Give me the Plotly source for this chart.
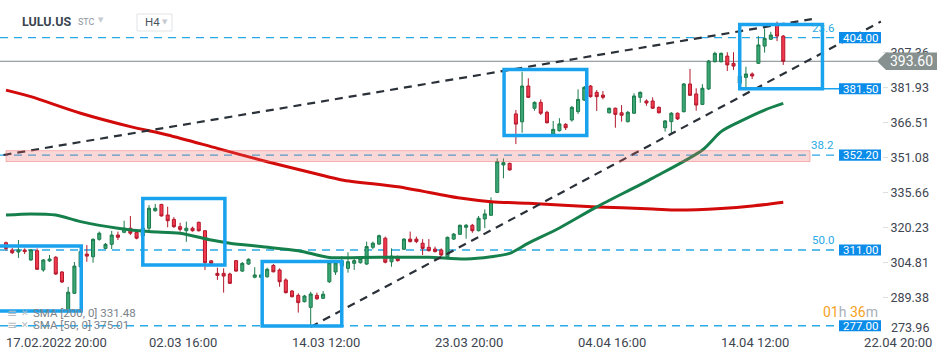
import plotly.graph_objects as go

# ---------------- data ----------------
candle_idx = list(range(126))
opens = [313.6, 310.4, 309.5, 310.4, 306.0, 310.1, 301.6, 305.6, 307.2, 300.7,
         283.2, 291.3, 303.0, 308.6, 307.4, 315.1, 311.1, 312.9, 317.0, 318.2,
         320.0, 318.2, 316.6, 320.0, 327.7, 330.5, 325.8, 323.9, 320.7, 318.9,
         320.0, 322.6, 318.9, 305.6, 300.1, 300.1, 299.8, 305.7, 301.1, 304.2,
         298.4, 298.4, 298.6, 303.6, 301.6, 297.2, 292.3, 290.4, 287.6, 285.1,
         290.4, 289.1, 296.4, 300.7, 303.3, 302.3, 304.5, 304.8, 304.2, 311.6,
         313.0, 315.6, 305.2, 307.4, 310.7, 315.2, 315.2, 313.4, 311.6, 310.8,
         310.4, 307.4, 315.2, 317.3, 320.4, 321.3, 318.9, 324.1, 325.7, 335.8,
         347.9, 348.6, 370.4, 366.9, 382.7, 372.9, 375.5, 371.1, 361.5, 363.0,
         365.8, 367.7, 371.4, 376.5, 382.7, 379.9, 378.7, 370.9, 372.9, 370.9,
         367.0, 370.7, 377.7, 376.1, 376.1, 373.3, 364.3, 367.0, 370.7, 371.4,
         383.6, 379.2, 374.6, 381.4, 393.4, 393.4, 395.9, 392.7, 383.9, 386.5,
         388.0, 392.7, 400.3, 403.3, 409.6, 404.7]
highs = [314.1, 311.3, 314.8, 311.1, 310.8, 311.1, 306.4, 308.2, 307.7, 301.1,
         294.1, 305.1, 311.3, 312.6, 315.6, 318.5, 313.5, 318.8, 318.5, 323.3,
         325.4, 319.2, 320.5, 330.2, 330.7, 330.7, 329.5, 324.9, 322.4, 322.9,
         320.7, 322.9, 319.2, 306.0, 302.6, 302.3, 300.4, 306.0, 305.1, 306.7,
         302.8, 299.8, 302.6, 304.2, 302.3, 297.9, 292.8, 291.3, 290.6, 292.0,
         291.6, 292.3, 305.6, 306.0, 307.7, 309.4, 306.7, 307.3, 314.1, 314.1,
         317.2, 316.3, 311.1, 308.0, 315.6, 318.5, 316.3, 315.2, 315.2, 311.9,
         311.1, 316.3, 317.9, 321.6, 321.9, 321.9, 325.4, 328.3, 333.6, 350.8,
         350.8, 348.9, 372.1, 389.0, 386.1, 375.9, 376.8, 371.8, 367.3, 368.5,
         366.3, 373.9, 381.2, 382.7, 383.1, 380.9, 380.5, 373.2, 373.2, 374.3,
         371.7, 379.5, 380.3, 376.8, 377.7, 373.7, 367.7, 371.2, 371.0, 384.0,
         390.2, 381.7, 383.5, 394.2, 397.8, 397.5, 397.6, 397.6, 387.6, 391.2,
         388.7, 404.7, 408.1, 406.6, 411.1, 405.2]
lows = [310.1, 308.6, 306.9, 308.6, 305.6, 301.6, 300.8, 305.1, 299.4, 295.8,
        282.6, 291.0, 302.5, 305.2, 304.8, 314.5, 310.8, 310.8, 314.8, 317.8,
        317.0, 315.1, 316.1, 318.5, 327.3, 325.2, 320.4, 320.1, 318.5, 314.0,
        318.5, 318.5, 301.6, 304.2, 297.2, 291.6, 295.4, 300.8, 300.7, 303.8,
        297.9, 298.0, 298.2, 300.5, 294.2, 291.2, 289.5, 282.8, 287.3, 277.2,
        288.4, 288.8, 295.8, 299.4, 302.5, 300.4, 301.6, 304.4, 303.8, 310.7,
        312.6, 304.5, 303.0, 305.3, 310.4, 313.7, 313.4, 308.2, 309.7, 309.3,
        307.7, 306.9, 314.8, 317.0, 315.4, 318.0, 318.6, 320.0, 325.4, 335.5,
        342.0, 345.4, 357.1, 362.1, 377.4, 371.8, 369.9, 366.2, 361.1, 362.6,
        363.3, 367.0, 370.4, 376.1, 377.6, 371.7, 376.8, 370.6, 364.3, 367.0,
        366.6, 370.4, 375.3, 374.0, 372.6, 370.6, 362.6, 361.8, 367.7, 371.0,
        378.3, 371.8, 374.3, 380.9, 393.1, 393.1, 389.3, 389.8, 383.4, 381.7,
        385.8, 392.4, 397.4, 403.0, 402.5, 392.0]
closes = [311.1, 309.2, 310.4, 309.7, 310.4, 301.9, 306.0, 306.4, 299.8, 296.3,
          291.8, 303.3, 309.7, 307.7, 315.1, 317.8, 312.9, 317.0, 316.0, 320.0,
          317.8, 315.6, 320.0, 328.8, 328.8, 325.4, 323.3, 320.7, 319.5, 320.0,
          318.9, 318.9, 304.8, 304.5, 299.2, 298.9, 295.7, 301.1, 304.5, 306.3,
          299.4, 299.4, 301.9, 300.8, 296.4, 291.6, 289.8, 287.2, 290.1, 291.0,
          288.9, 290.9, 304.8, 304.7, 305.6, 305.2, 305.7, 306.7, 311.9, 313.4,
          316.7, 305.0, 307.7, 305.7, 315.2, 314.1, 314.1, 311.1, 310.1, 309.7,
          308.2, 316.0, 317.4, 321.3, 321.3, 318.9, 324.4, 326.3, 331.7, 349.3,
          348.9, 345.7, 365.9, 382.7, 377.7, 375.5, 370.7, 366.5, 363.6, 366.0,
          364.3, 373.3, 376.8, 382.1, 378.0, 378.0, 377.7, 372.9, 370.2, 369.8,
          371.1, 378.3, 379.9, 375.2, 372.9, 370.9, 367.3, 370.7, 368.2, 383.6,
          378.6, 374.3, 381.7, 393.7, 397.1, 397.1, 392.0, 391.5, 387.1, 388.0,
          387.1, 400.8, 403.7, 405.2, 404.7, 393.6]

sma200_idx = [0, 4, 12, 20, 26, 34, 42, 50, 54, 63, 73, 78, 84, 95, 104, 108, 115, 120, 125]
sma200_val = [380.9, 378.0, 370.7, 364.8, 361.1, 355.2, 349.3, 343.9, 341.3, 338.3,
              333.3, 331.7, 331.0, 329.4, 328.5, 328.0, 328.7, 329.8, 331.48]
sma50_idx = [0, 4, 8, 12, 18, 23, 28, 33, 36, 41, 47, 52, 57, 63, 68, 74, 78, 81, 84,
             89, 95, 104, 112, 115, 118, 122, 125]
sma50_val = [325.8, 326.3, 325.8, 322.9, 320.0, 318.5, 317.8, 314.8, 313.4, 311.9,
             310.1, 307.1, 307.1, 307.2, 307.2, 306.4, 307.4, 308.9, 313.4, 320.1,
             329.4, 342.1, 354.5, 362.6, 367.0, 372.1, 375.01]

ytick_vals = [289.38, 304.81, 320.23, 335.66, 351.08, 366.51, 381.93, 397.36]
ytick_bottom = "273.96"
xtick_idx = [0, 23, 46, 69, 92, 115, 138]
xtick_text = ["17.02.2022 20:00", "02.03 16:00", "14.03 12:00", "23.03 20:00",
              "04.04 16:00", "14.04 12:00", "22.04 20:00"]

fib_levels = [404.0, 352.2, 310.4]
fib_pct = ["23.6", "38.2", "50.0"]
fib_text = ["404.00", "352.20", "311.00"]
low_level = 277.0
low_text = "277.00"
box_level = 381.5
box_text = "381.50"
last_price = 393.6
last_text = "393.60"
fib_band = (349.4, 354.2)

# boxes: (x0 idx, x1 idx, y0 price, y1 price)
boxes = [(-1.5, 12.1, 283.5, 312.2),
         (22.0, 35.2, 303.8, 333.1),
         (41.2, 54.0, 276.9, 305.3),
         (80.1, 93.4, 360.9, 390.0),
         (118.0, 131.3, 381.5, 409.8)]
trend_upper = ([-0.4, 129.6], [352.3, 412.2])
trend_lower = ([49.0, 140.7], [276.5, 411.1])

# ---------------- figure ----------------
PW = 882.0
PH = 333.0
Y0, Y1 = 273.8, 420.62
def pxx(p):
    return p / PW
def pxy(p):
    return 1 - p / PH

fig = go.Figure()

fig.add_trace(go.Candlestick(
    x=candle_idx, open=opens, high=highs, low=lows, close=closes,
    increasing=dict(fillcolor="#3aa876", line=dict(color="#1c7a4b", width=1)),
    decreasing=dict(fillcolor="#f23a4e", line=dict(color="#b3182c", width=1)),
    whiskerwidth=0, hoverinfo="skip"))

fig.add_trace(go.Scatter(x=sma200_idx, y=sma200_val, mode="lines",
                         line=dict(color="#d20a0a", width=3, shape="spline", smoothing=0.8),
                         hoverinfo="skip"))
fig.add_trace(go.Scatter(x=sma50_idx, y=sma50_val, mode="lines",
                         line=dict(color="#16804c", width=3, shape="spline", smoothing=0.8),
                         hoverinfo="skip"))

fig.add_trace(go.Scatter(x=trend_upper[0], y=trend_upper[1], mode="lines",
                         line=dict(color="#2b3139", width=2.2, dash="8px,6px"),
                         hoverinfo="skip"))
fig.add_trace(go.Scatter(x=trend_lower[0], y=trend_lower[1], mode="lines",
                         line=dict(color="#2b3139", width=2.2, dash="8px,6px"),
                         hoverinfo="skip"))

shapes = []
FIB_BLUE = "#29a9e6"
for lv in fib_levels + [low_level]:
    shapes.append(dict(type="line", xref="paper", yref="y", x0=0, x1=pxx(838), y0=lv, y1=lv,
                       line=dict(color=FIB_BLUE, width=1.3, dash="8px,6px"), layer="below"))
# last price line
shapes.append(dict(type="line", xref="paper", yref="y", x0=0, x1=pxx(877), y0=last_price, y1=last_price,
                   line=dict(color="#7d878c", width=1), layer="below"))
# fib band
shapes.append(dict(type="rect", xref="x", yref="y", x0=0, x1=129.3, y0=fib_band[0], y1=fib_band[1],
                   fillcolor="rgba(240,100,100,0.25)", line=dict(color="rgba(240,100,100,0.45)", width=1),
                   layer="above"))
# blue boxes
for (x0, x1, y0, y1) in boxes:
    shapes.append(dict(type="rect", xref="x", yref="y", x0=x0, x1=x1, y0=y0, y1=y1,
                       line=dict(color="#19a2ee", width=3.5), fillcolor="rgba(0,0,0,0)", layer="above"))
# connector for 381.50
shapes.append(dict(type="line", xref="paper", yref="y", x0=pxx(822), x1=pxx(839), y0=box_level, y1=box_level,
                   line=dict(color="#19a2ee", width=1.5)))

annotations = []
LBL_BLUE = "#0b8ce9"
half = 5.6 / (PH / (Y1 - Y0))
for lv, txt in zip(fib_levels + [box_level, low_level], fib_text + [box_text, low_text]):
    shapes.append(dict(type="rect", xref="paper", yref="y", x0=pxx(839), x1=pxx(881),
                       y0=lv - half, y1=lv + half, fillcolor=LBL_BLUE, line=dict(width=0), layer="above"))
    annotations.append(dict(xref="paper", yref="y", x=pxx(860), y=lv, text=txt, showarrow=False,
                            font=dict(family="Roboto", size=11.5, color="white"),
                            xanchor="center", yanchor="middle"))
for lv, txt in zip(fib_levels, fib_pct):
    annotations.append(dict(xref="paper", yref="y", x=pxx(836), y=lv, text=txt, showarrow=False,
                            font=dict(family="Roboto", size=11.5, color=FIB_BLUE),
                            xanchor="right", yanchor="bottom", yshift=1))

# last price arrow label
hg = 8.7 / (PH / (Y1 - Y0))
shapes.append(dict(type="path", xref="paper", yref="y",
                   path="M {a},{m} L {b},{t} L {c},{t} L {c},{bt} L {b},{bt} Z".format(
                       a=pxx(877), b=pxx(886), c=pxx(937), m=last_price,
                       t=last_price + hg, bt=last_price - hg),
                   fillcolor="#87918f", line=dict(width=0), layer="above"))
annotations.append(dict(xref="paper", yref="y", x=pxx(911), y=last_price, text=last_text,
                        showarrow=False, font=dict(family="Roboto", size=14, color="white"),
                        xanchor="center", yanchor="middle"))

# bottom price-axis label, lifted inside the window as in the original
annotations.append(dict(xref="paper", yref="paper", x=pxx(889), y=pxy(327.5), text=ytick_bottom,
                        showarrow=False, xanchor="left", yanchor="middle",
                        font=dict(family="Roboto", size=12.5, color="#3d4550")))

# header
annotations.append(dict(xref="paper", yref="paper", x=pxx(20), y=pxy(21), text="<b>LULU.US</b>",
                        showarrow=False, xanchor="left", yanchor="middle",
                        font=dict(family="Roboto", size=12.5, color="#3b4552")))
annotations.append(dict(xref="paper", yref="paper", x=pxx(76), y=pxy(22), text="STC",
                        showarrow=False, xanchor="left", yanchor="middle",
                        font=dict(family="Roboto", size=9, color="#8d96a0")))
annotations.append(dict(xref="paper", yref="paper", x=pxx(96), y=pxy(20), text="▼",
                        showarrow=False, xanchor="left", yanchor="middle",
                        font=dict(family="DejaVu Sans", size=7, color="#c6cbd0")))
shapes.append(dict(type="rect", xref="paper", yref="paper", x0=pxx(137), x1=pxx(172),
                   y0=pxy(31), y1=pxy(14), line=dict(color="#dfe3e6", width=1), fillcolor="white"))
annotations.append(dict(xref="paper", yref="paper", x=pxx(143), y=pxy(22.5), text="H4",
                        showarrow=False, xanchor="left", yanchor="middle",
                        font=dict(family="Roboto", size=11.5, color="#4a5560")))
annotations.append(dict(xref="paper", yref="paper", x=pxx(160), y=pxy(21.5), text="▼",
                        showarrow=False, xanchor="left", yanchor="middle",
                        font=dict(family="DejaVu Sans", size=7, color="#c6cbd0")))

# SMA legend
for yy, txt in [(312.5, "SMA [200, 0] 331.48"), (324.5, "SMA [50, 0] 375.01")]:
    annotations.append(dict(xref="paper", yref="paper", x=pxx(5), y=pxy(yy), text="≡",
                            showarrow=False, xanchor="left", yanchor="middle",
                            font=dict(family="DejaVu Sans", size=12, color="#b5bbc1")))
    annotations.append(dict(xref="paper", yref="paper", x=pxx(19), y=pxy(yy), text="✕",
                            showarrow=False, xanchor="left", yanchor="middle",
                            font=dict(family="DejaVu Sans", size=9, color="#b5bbc1")))
    annotations.append(dict(xref="paper", yref="paper", x=pxx(31), y=pxy(yy), text=txt,
                            showarrow=False, xanchor="left", yanchor="middle",
                            font=dict(family="Roboto", size=11.5, color="#7b838b")))

# countdown
annotations.append(dict(xref="paper", yref="paper", x=pxx(880), y=pxy(311.5),
                        text="<span style='color:#f5a122'>01</span>h <span style='color:#f5a122'>36</span>m",
                        showarrow=False, xanchor="right", yanchor="middle",
                        font=dict(family="Roboto", size=14, color="#a9b0b6")))

fig.update_layout(
    width=950, height=358,
    margin=dict(l=0, r=68, t=0, b=25),
    paper_bgcolor="white", plot_bgcolor="white",
    showlegend=False,
    font=dict(family="Roboto", size=12, color="#3d4550"),
    shapes=shapes, annotations=annotations,
    xaxis=dict(range=[-0.965, 140.88], showgrid=False, zeroline=False, showline=False,
               tickvals=xtick_idx, ticktext=xtick_text, ticks="",
               ticklabelposition="outside right",
               tickfont=dict(family="Roboto", size=13, color="#3d4550"),
               rangeslider=dict(visible=False), fixedrange=True),
    yaxis=dict(range=[Y0, Y1], side="right", showgrid=False, zeroline=False, showline=False,
               tickvals=ytick_vals, ticktext=["%.2f" % v for v in ytick_vals],
               ticks="outside", ticklen=5, tickcolor="#dcdfe2", tickwidth=1,
               tickfont=dict(family="Roboto", size=12.5, color="#3d4550"), fixedrange=True),
)

fig.write_html("out.html", config={"displayModeBar": False},
               post_script="document.body.style.margin='0';document.body.style.overflow='hidden';")
